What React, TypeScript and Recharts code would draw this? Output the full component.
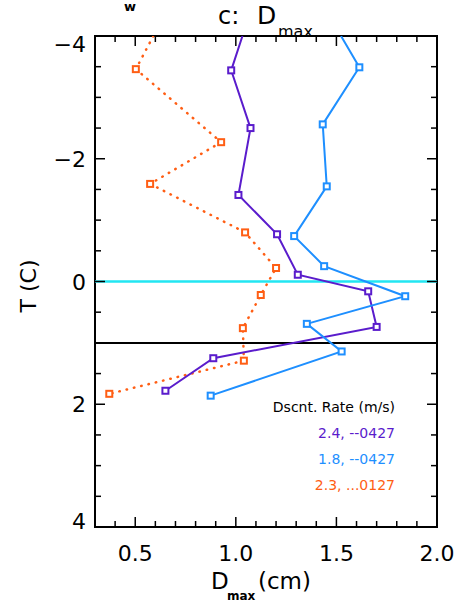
import React from 'react';
import {
  ScatterChart,
  Scatter,
  XAxis,
  YAxis,
  ReferenceLine,
  ReferenceArea,
} from 'recharts';

// Chart values (T in C, Dmax in cm)
// first point of each series is where the line leaves the top of the frame (no marker)
const purpleT = [-4.0, -3.44, -2.5, -1.41, -0.77, -0.11, 0.16, 0.74, 1.25, 1.78];
const purpleD = [1.033, 0.977, 1.073, 1.013, 1.205, 1.308, 1.658, 1.7, 0.888, 0.65];

const blueT = [-4.0, -3.49, -2.56, -1.55, -0.74, -0.25, 0.24, 0.69, 1.14, 1.86];
const blueD = [1.523, 1.614, 1.432, 1.452, 1.29, 1.439, 1.842, 1.353, 1.526, 0.875];

const orangeT = [-4.0, -3.46, -2.27, -1.59, -0.8, -0.22, 0.22, 0.76, 1.29, 1.83];
const orangeD = [0.59, 0.503, 0.927, 0.574, 1.046, 1.2, 1.124, 1.035, 1.04, 0.371];

const xTicks = [0.3, 0.4, 0.5, 0.6, 0.7, 0.8, 0.9, 1.0, 1.1, 1.2, 1.3, 1.4, 1.5, 1.6, 1.7, 1.8, 1.9, 2.0];
const xMajor = ['0.5', '1.0', '1.5', '2.0'];
const yTicks = [-4, -3.5, -3, -2.5, -2, -1.5, -1, -0.5, 0, 0.5, 1, 1.5, 2, 2.5, 3, 3.5, 4];
const yMajor = [-4, -2, 0, 2, 4];

const legendTitle = 'Dscnt. Rate (m/s)';
const legendItems = ['2.4, --0427', '1.8, --0427', '2.3, ...0127'];

const PURPLE = '#5a1ccc';
const BLUE = '#1e8fff';
const ORANGE = '#ff5e14';
const CYAN = '#22e6f2';

const W = 458;
const H = 605;
const LEFT = 95;
const RIGHT = 437;
const TOP = 36;
const BOTTOM = 527;
const FONT = '"DejaVu Sans", Verdana, sans-serif';

const toRows = (t: number[], d: number[]) => t.map((v, i) => ({ T: v, D: d[i], edge: i === 0 }));

const purpleData = toRows(purpleT, purpleD);
const blueData = toRows(blueT, blueD);
const orangeData = toRows(orangeT, orangeD);

const makeSquare = (color: string) => (props: any) => {
  const { cx, cy, payload } = props;
  if (payload?.edge || cx == null) return <g />;
  return (
    <rect x={cx - 3} y={cy - 3} width={6} height={6} fill="#fff" stroke={color} strokeWidth={2} />
  );
};

const XTick = (props: any) => {
  const { x, payload } = props;
  const v = Number(payload.value);
  const label = v.toFixed(1);
  const major = xMajor.includes(label);
  const len = major ? 10 : 6;
  return (
    <g>
      <line x1={x} x2={x} y1={BOTTOM} y2={BOTTOM - len} stroke="#000" strokeWidth={1.5} />
      <line x1={x} x2={x} y1={TOP} y2={TOP + len} stroke="#000" strokeWidth={1.5} />
      {major && (
        <text x={x} y={561} textAnchor="middle" fontSize={22} fontFamily={FONT} fill="#000">
          {label}
        </text>
      )}
    </g>
  );
};

const YTick = (props: any) => {
  const { y, payload } = props;
  const v = Number(payload.value);
  const major = yMajor.includes(v);
  const len = major ? 10 : 6;
  let shift = 0;
  if (v === -4) shift = 8;
  if (v === 4) shift = -6;
  const label = v < 0 ? '\u2212' + Math.abs(v) : String(v);
  return (
    <g>
      <line x1={LEFT} x2={LEFT + len} y1={y} y2={y} stroke="#000" strokeWidth={1.5} />
      <line x1={RIGHT - len} x2={RIGHT} y1={y} y2={y} stroke="#000" strokeWidth={1.5} />
      {major && (
        <text x={86} y={y + shift + 8} textAnchor="end" fontSize={22} fontFamily={FONT} fill="#000">
          {label}
        </text>
      )}
    </g>
  );
};

export default function App() {
  return (
    <div style={{ position: 'absolute', left: 0, top: 0, width: W, height: H, background: '#fff' }}>
      <ScatterChart
        width={W}
        height={H}
        margin={{ top: TOP, right: W - RIGHT, left: 0, bottom: 0 }}
      >
        <XAxis
          type="number"
          dataKey="D"
          domain={[0.3, 2.0]}
          ticks={xTicks}
          interval={0}
          allowDataOverflow
          axisLine={false}
          tickLine={false}
          tick={<XTick />}
          height={H - BOTTOM}
        />
        <YAxis
          type="number"
          dataKey="T"
          domain={[-4, 4]}
          reversed
          ticks={yTicks}
          interval={0}
          allowDataOverflow
          axisLine={false}
          tickLine={false}
          tick={<YTick />}
          width={LEFT}
        />
        <ReferenceArea
          x1={0.3}
          x2={2.0}
          y1={-4}
          y2={4}
          fill="none"
          fillOpacity={0}
          stroke="#000"
          strokeWidth={2}
          strokeOpacity={1}
        />
        <ReferenceLine y={0} stroke={CYAN} strokeWidth={2.5} />
        <ReferenceLine y={1} stroke="#000" strokeWidth={2} />
        <Scatter
          data={orangeData}
          isAnimationActive={false}
          line={{ stroke: ORANGE, strokeWidth: 2.5, strokeDasharray: '0.5 7', strokeLinecap: 'round' }}
          lineJointType="linear"
          shape={makeSquare(ORANGE)}
        />
        <Scatter
          data={purpleData}
          isAnimationActive={false}
          line={{ stroke: PURPLE, strokeWidth: 2 }}
          lineJointType="linear"
          shape={makeSquare(PURPLE)}
        />
        <Scatter
          data={blueData}
          isAnimationActive={false}
          line={{ stroke: BLUE, strokeWidth: 2 }}
          lineJointType="linear"
          shape={makeSquare(BLUE)}
        />
      </ScatterChart>
      <svg
        width={W}
        height={H}
        style={{ position: 'absolute', left: 0, top: 0, pointerEvents: 'none' }}
        fontFamily={FONT}
      >
        {/* title */}
        <text x={130} y={11} fontSize={13} fontWeight="bold" textAnchor="middle">w</text>
        <text x={218} y={24} fontSize={24}>c:</text>
        <text x={257} y={24} fontSize={25}>D</text>
        <text x={278} y={37} fontSize={16}>max</text>
        {/* y label */}
        <text
          transform="translate(36 286) rotate(-90)"
          textAnchor="middle"
          fontSize={22}
        >
          T (C)
        </text>
        {/* x label */}
        <text x={211} y={589} fontSize={23}>D</text>
        <text x={227} y={600} fontSize={12} fontWeight="bold">max</text>
        <text x={258} y={589} fontSize={23}>(cm)</text>
        {/* legend */}
        <text x={395} y={412} fontSize={14} textAnchor="end" fill="#000">{legendTitle}</text>
        <text x={395} y={438} fontSize={14} textAnchor="end" fill={PURPLE}>{legendItems[0]}</text>
        <text x={395} y={464} fontSize={14} textAnchor="end" fill={BLUE}>{legendItems[1]}</text>
        <text x={395} y={490} fontSize={14} textAnchor="end" fill={ORANGE}>{legendItems[2]}</text>
      </svg>
    </div>
  );
}
